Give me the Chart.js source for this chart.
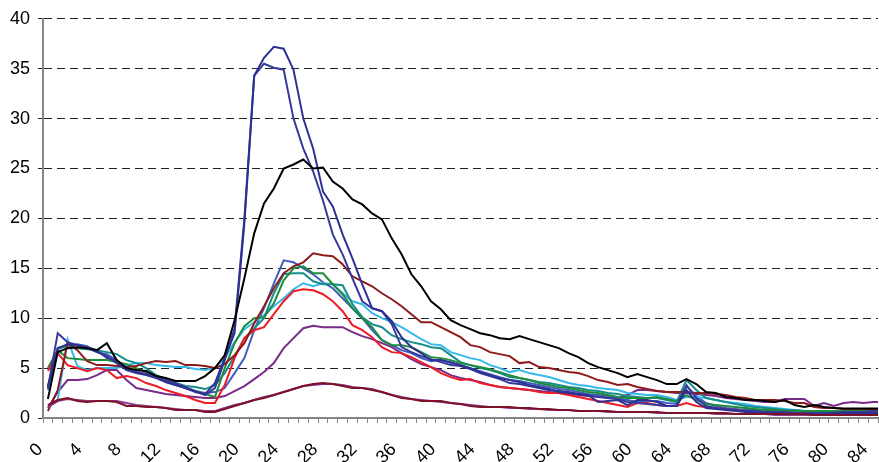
<!DOCTYPE html>
<html>
<head>
<meta charset="utf-8">
<script src="https://cdn.jsdelivr.net/npm/chart.js@4.4.1/dist/chart.umd.min.js"></script>
<style>
    html, body { margin: 0; padding: 0; background: #fff; overflow: hidden; }
    #wrap { width: 879px; height: 462px; }
</style>
</head>
<body>
<div id="wrap"><canvas id="lineChart" width="879" height="462"></canvas></div>
<script>
// Tick labels shown on the x axis (every 4th step)
var xTickLabels = [0, 4, 8, 12, 16, 20, 24, 28, 32, 36, 40, 44, 48, 52, 56, 60, 64, 68, 72, 76, 80, 84];

// Series values, one per step
var black = [1.9,6.6,7.0,7.1,7.0,6.8,7.5,5.8,5.0,4.8, 4.7,4.2,4.0,3.7,3.7,3.7,4.2,5.0,6.3,9.8,
    14.0,18.5,21.5,23.0,25.0,25.4,25.9,25.0,25.1,23.7, 23.0,21.9,21.4,20.5,19.9,18.0,16.4,14.4,13.2,11.7,
    10.9,9.8,9.3,8.9,8.5,8.3,8.0,7.9,8.2,7.9, 7.6,7.3,7.0,6.5,6.1,5.5,5.1,4.8,4.5,4.1,
    4.4,4.1,3.8,3.4,3.4,3.9,3.4,2.6,2.5,2.1, 2.0,1.8,1.8,1.7,1.6,1.8,1.3,1.1,1.3,1.1,
    1.0,0.95,0.95,0.95,0.95,0.95];
var navyA = [3.2,7.0,7.4,7.3,7.0,6.6,6.2,5.5,4.8,4.5, 4.3,4.0,3.6,3.3,3.0,2.6,2.4,3.5,6.0,8.5,
    19.5,34.3,36.1,37.2,37.0,34.9,30.0,27.0,22.7,21.2, 18.4,16.0,13.4,11.0,10.7,9.7,8.1,7.1,6.5,5.8,
    5.8,5.6,5.3,5.0,4.6,4.3,4.0,3.8,3.6,3.3, 3.1,2.9,2.6,2.5,2.4,2.3,1.6,1.7,1.8,1.3,
    1.8,1.8,1.6,1.2,1.2,2.8,1.6,1.0,0.9,0.8, 0.7,0.6,0.5,0.5,0.5,0.4,0.4,0.4,0.4,0.4,
    0.5,0.5,0.5,0.5,0.5,0.5];
var navyB = [3.0,8.5,7.6,7.3,7.1,6.8,6.0,5.8,5.0,4.6, 4.4,4.2,3.8,3.5,3.1,2.7,2.3,3.0,5.8,9.0,
    20.0,34.3,35.5,35.1,34.9,30.0,27.0,24.7,21.8,18.4, 16.4,14.0,11.7,11.0,10.7,9.4,7.1,6.6,6.2,5.9,
    5.6,5.3,5.2,4.9,4.5,4.2,3.9,3.5,3.4,3.2, 3.0,2.8,2.7,2.6,2.4,2.2,2.1,2.0,1.9,1.6,
    1.5,1.4,1.3,1.2,1.2,3.3,2.0,1.2,1.0,0.9, 0.8,0.7,0.7,0.6,0.6,0.6,0.5,0.5,0.5,0.5,
    0.5,0.6,0.6,0.6,0.7,0.7];
var blue = [2.8,7.0,7.3,7.4,7.2,6.6,6.4,5.8,5.0,4.6, 4.4,4.2,3.6,3.3,3.0,2.7,2.5,2.6,3.0,4.5,
    6.0,8.8,11.0,13.5,15.8,15.6,15.0,14.4,13.6,13.0, 12.0,11.0,10.0,8.8,7.8,7.3,6.8,6.5,6.0,5.7,
    5.8,5.5,5.3,5.0,4.7,4.4,4.1,3.8,3.7,3.5, 3.3,3.1,2.9,2.8,2.6,2.4,2.3,2.2,2.0,1.8,
    1.6,1.7,1.7,1.5,1.4,3.2,2.2,1.5,1.2,1.0, 0.9,0.8,0.8,0.7,0.7,0.6,0.5,0.5,0.5,0.5,
    0.5,0.5,0.5,0.5,0.6,0.6];
var teal = [3.0,6.9,7.2,7.0,6.9,6.8,6.6,6.4,5.8,5.5, 5.0,4.3,3.9,3.5,3.2,3.1,2.9,3.3,4.5,6.2,
    8.0,9.0,10.0,12.5,14.4,14.5,14.5,13.7,13.4,13.4, 13.3,11.4,10.1,9.4,9.1,8.3,7.9,7.6,7.4,7.1,
    7.0,6.3,5.6,5.3,5.0,4.8,4.5,4.1,4.0,3.8, 3.6,3.5,3.3,3.1,3.0,2.8,2.7,2.5,2.4,2.2,
    2.1,2.0,2.0,1.8,1.6,3.8,2.8,2.0,1.8,1.6, 1.4,1.2,1.1,1.0,0.9,0.8,0.8,0.7,0.7,0.7,
    0.6,0.6,0.6,0.6,0.7,0.7];
var green = [5.0,6.8,6.0,5.9,5.8,5.8,5.8,5.6,5.4,5.0, 4.6,4.3,3.8,3.4,3.0,2.7,2.4,2.1,5.0,7.5,
    9.2,10.0,10.1,11.5,13.8,15.0,15.2,14.5,14.5,13.4, 12.4,11.0,10.0,9.1,7.8,7.3,7.3,7.1,6.6,6.1,
    6.0,5.8,5.5,5.3,5.1,4.9,4.6,4.3,4.0,3.8, 3.5,3.3,3.1,3.0,2.8,2.6,2.5,2.3,2.1,2.0,
    2.0,2.0,2.1,1.9,1.7,2.3,1.8,1.4,1.3,1.2, 1.1,1.0,0.9,0.8,0.8,0.7,0.7,0.7,0.7,0.7,
    0.7,0.7,0.7,0.7,0.8,0.8];
var cyan = [1.3,1.8,7.9,5.2,4.8,5.0,5.0,5.0,5.3,5.5, 5.5,5.3,5.2,5.1,5.1,4.9,4.8,5.0,6.0,7.6,
    8.9,9.6,10.3,11.2,12.0,12.9,13.5,13.2,13.5,13.4, 12.5,11.7,11.4,10.5,10.0,9.6,9.1,8.5,7.9,7.4,
    7.3,6.6,6.3,6.0,5.8,5.3,5.0,4.6,4.8,4.5, 4.3,4.1,3.8,3.5,3.3,3.2,3.0,2.9,2.8,2.5,
    2.4,2.3,2.3,2.1,1.8,2.1,2.1,2.0,1.8,1.6, 1.5,1.4,1.2,1.1,1.0,0.9,0.8,0.7,0.6,0.6,
    0.5,0.5,0.5,0.4,0.4,0.4];
var red = [4.7,6.5,5.3,5.0,4.7,5.0,4.8,4.0,4.2,4.0, 3.5,3.2,2.8,2.5,2.2,1.8,1.5,1.5,3.3,6.0,
    8.0,8.8,9.1,10.4,11.7,12.7,12.9,12.8,12.4,11.7, 10.7,9.3,8.8,8.1,7.1,6.6,6.5,6.1,5.6,5.1,
    4.5,4.1,3.8,3.9,3.5,3.3,3.1,3.0,2.9,2.8, 2.6,2.5,2.5,2.3,2.1,1.9,1.7,1.5,1.3,1.1,
    1.5,1.5,1.3,1.2,1.2,1.5,1.2,1.1,1.0,0.9, 0.8,0.7,0.6,0.5,0.5,0.5,0.5,0.4,0.4,0.4,
    0.4,0.4,0.4,0.4,0.4,0.4];
var maroon = [0.7,2.8,7.5,6.8,5.7,5.3,5.3,5.2,5.1,5.2, 5.5,5.7,5.6,5.7,5.3,5.3,5.2,5.0,5.4,6.3,
    7.5,9.5,11.2,13.0,14.5,15.2,15.6,16.5,16.3,16.2, 15.4,14.2,13.7,13.2,12.5,11.9,11.2,10.4,9.6,9.6,
    9.1,8.6,8.1,7.3,7.1,6.6,6.4,6.2,5.5,5.6, 5.1,5.0,4.8,4.6,4.5,4.2,3.8,3.6,3.3,3.4,
    3.1,2.9,2.7,2.6,2.6,2.6,2.5,2.5,2.4,2.3, 2.1,2.0,1.8,1.8,1.8,1.7,1.5,1.5,1.1,1.0,
    1.0,0.9,0.9,0.9,0.9,0.9];
var purple = [1.0,2.6,3.8,3.8,3.9,4.3,4.8,4.8,3.8,3.0, 2.8,2.6,2.4,2.3,2.2,2.1,2.0,2.0,2.2,2.7,
    3.2,3.9,4.6,5.5,7.0,8.0,9.0,9.25,9.1,9.1, 9.1,8.6,8.2,7.9,7.5,7.1,6.5,5.9,5.4,5.1,
    4.8,4.3,4.0,3.8,3.6,3.3,3.1,3.0,2.9,2.8, 2.7,2.6,2.5,2.4,2.3,2.2,2.2,2.0,2.0,2.3,
    2.8,2.8,2.7,2.6,2.5,2.5,2.4,2.3,2.2,2.0, 1.9,1.8,1.7,1.6,1.6,1.9,1.9,1.9,1.2,1.5,
    1.2,1.5,1.6,1.5,1.6,1.6];
var wine = [1.3,1.8,2.0,1.7,1.6,1.7,1.7,1.6,1.2,1.2, 1.1,1.1,1.0,0.8,0.8,0.8,0.6,0.6,0.9,1.2,
    1.5,1.8,2.0,2.3,2.6,2.9,3.2,3.4,3.5,3.4, 3.2,3.0,3.0,2.8,2.6,2.3,2.0,1.9,1.7,1.7,
    1.7,1.5,1.4,1.2,1.1,1.1,1.1,1.1,1.0,1.0, 0.9,0.9,0.8,0.8,0.7,0.7,0.7,0.7,0.6,0.6,
    0.6,0.6,0.6,0.5,0.5,0.5,0.5,0.5,0.5,0.5, 0.4,0.4,0.4,0.4,0.4,0.4,0.4,0.4,0.3,0.3,
    0.3,0.3,0.3,0.3,0.3,0.3];
var violet = [1.1,1.7,1.9,1.8,1.7,1.7,1.7,1.7,1.5,1.3, 1.2,1.1,1.0,0.9,0.8,0.8,0.7,0.7,1.0,1.3,
    1.5,1.8,2.1,2.3,2.6,2.9,3.2,3.3,3.4,3.4, 3.3,3.1,3.0,2.9,2.6,2.3,2.1,1.9,1.8,1.7,
    1.6,1.5,1.4,1.3,1.2,1.1,1.1,1.0,1.0,0.9, 0.9,0.8,0.8,0.8,0.7,0.7,0.7,0.6,0.6,0.6,
    0.6,0.6,0.5,0.5,0.5,0.5,0.5,0.5,0.4,0.4, 0.4,0.4,0.4,0.4,0.3,0.3,0.3,0.3,0.3,0.3,
    0.3,0.3,0.3,0.3,0.3,0.3];

// first dataset ends up drawn on top
var series = [
    { values: black,  color: "#000000" },
    { values: wine,   color: "#7d1128" },
    { values: violet, color: "#8a3c90" },
    { values: navyA,  color: "#2e3192" },
    { values: navyB,  color: "#353a9c" },
    { values: maroon, color: "#8e1b1b" },
    { values: red,    color: "#ee1c24" },
    { values: green,  color: "#1f8b3c" },
    { values: teal,   color: "#168d8b" },
    { values: cyan,   color: "#35b8ec" },
    { values: blue,   color: "#3f5fbf" },
    { values: purple, color: "#7a2a8a" }
];

var font = { family: "'Liberation Sans', Arial, sans-serif", size: 18 };
var axisGrey = "#868686";

var ctx = document.getElementById("lineChart").getContext("2d");

var datasets = series.map(function(s) {
    return {
        data: s.values.map(function(v, i) { return { x: i + 0.5, y: v }; }),
        borderColor: s.color,
        borderWidth: 2,
        pointRadius: 0,
        fill: false,
        tension: 0
    };
});

var myLineChart = new Chart(ctx, {
    type: 'line',
    data: { datasets: datasets },
    options: {
        responsive: false,
        animation: false,
        plugins: { legend: { display: false }, tooltip: { enabled: false } },
        layout: { padding: { left: 0, top: 16, right: 1, bottom: 0 } },
        scales: {
            x: {
                type: 'linear',
                min: 0,
                max: 85,
                ticks: {
                    stepSize: 1,
                    autoSkip: false,
                    minRotation: 45,
                    maxRotation: 45,
                    padding: 16,
                    labelOffset: -3,
                    font: font,
                    color: "#000",
                    callback: function(value) {
                        return xTickLabels.indexOf(value) >= 0 ? String(value) : "";
                    }
                },
                grid: { drawOnChartArea: false, color: axisGrey, tickLength: 5 },
                border: { color: axisGrey, width: 2 },
                // fixed axis band so the plot ends at the same place as the picture
                afterFit: function(scale) {
                    scale.height = 44;
                    scale.paddingLeft = 0;
                    scale.paddingRight = 0;
                }
            },
            y: {
                min: 0,
                max: 40,
                ticks: { stepSize: 5, font: font, color: "#000", padding: 8 },
                grid: { color: "#222", lineWidth: 1, tickLength: 5, tickColor: "#222" },
                border: { color: axisGrey, width: 2, dash: [8, 5] },
                afterFit: function(scale) {
                    scale.width = 43;
                }
            }
        }
    }
});
</script>
</body>
</html>
